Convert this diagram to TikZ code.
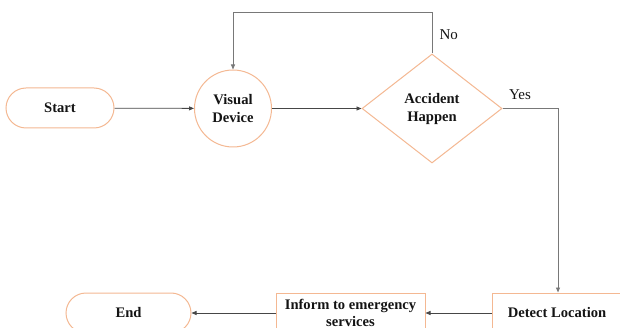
\documentclass[tikz,border=0pt]{standalone}
\usepackage{fontspec}
\setmainfont{Liberation Serif}
\usetikzlibrary{arrows.meta,shapes.geometric}
\definecolor{Peach}{RGB}{244,184,146}
\definecolor{Ink}{RGB}{20,20,20}
\definecolor{Wire}{RGB}{70,70,70}
\definecolor{LightWire}{RGB}{120,120,120}
\tikzset{
  >={Triangle[length=5pt,width=4pt]},
  box/.style={draw=Peach,line width=1pt,fill=white,align=center,text=Ink,font=\fontsize{14.6}{18}\selectfont\bfseries,inner sep=0pt},
  term/.style={box,rounded corners=20pt,minimum width=108pt,minimum height=40pt},
  proc/.style={box,minimum height=40pt},
  device/.style={box,circle,minimum size=77pt},
  decision/.style={box,diamond,minimum width=140pt,minimum height=109pt},
  flow/.style={->,line width=0.8pt,draw=Wire},
  back/.style={->,line width=0.9pt,draw=LightWire},
  tag/.style={font=\fontsize{15}{18}\selectfont,text=Ink}
}
\begin{document}
\begin{tikzpicture}[x=1pt,y=-1pt]
  \clip (0,0) rectangle (620,328);
  \node[term] (start) at (60,108) {Start};
  \node[device] (vis) at (233,108.5) {Visual\\Device};
  \node[decision] (acc) at (432,108.5) {Accident\\Happen};
  \node[proc,minimum width=130pt] (det) at (557,313) {Detect Location};
  \node[proc,minimum width=149pt,font=\fontsize{14.6}{16.5}\selectfont\bfseries] (inf) at (350.5,313) {Inform to emergency\\services};
  \node[term,minimum width=125pt] (end) at (128.5,313) {End};
  \coordinate (top) at (432,12.5);
  \coordinate (turn) at (558,108.5);
  \draw[flow] (start)--(vis);
  \draw[flow] (vis)--(acc);
  \draw[back] (acc.north)--(top)-|(vis.north);
  \draw[back] (acc.east)--(turn)--(turn|-det.north);
  \draw[flow] (det)--(inf);
  \draw[flow] (inf)--(end);
  \node[tag,anchor=west] (no) at (436,35) {No};
  \node[tag] (yes) at (520,95) {Yes};
\end{tikzpicture}
\end{document}
